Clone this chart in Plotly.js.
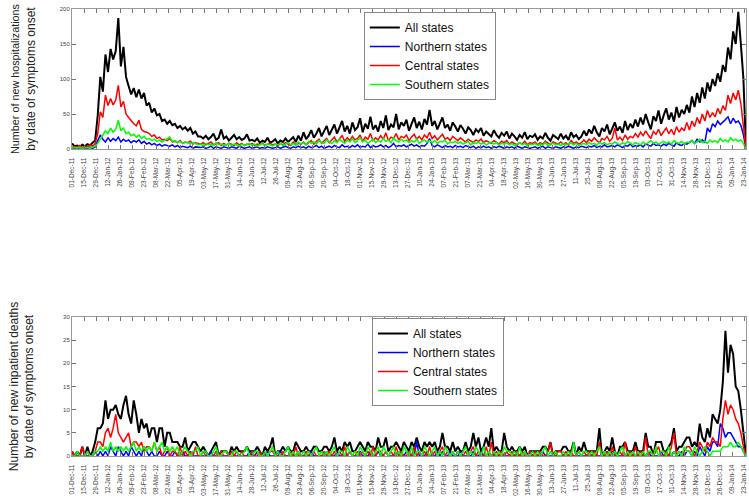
<!DOCTYPE html>
<html><head><meta charset="utf-8">
<script src="https://cdn.plot.ly/plotly-3.0.1.min.js"></script>
<style>html,body{margin:0;padding:0;background:#fff;}#chart{width:749px;height:499px;}</style>
</head><body><div id="chart"></div>
<script>
// Series sampled every 3 days from 01-Dec-2011
const startDate = '2011-12-01';
const stepDays = 3;
const seriesNames = ['All states', 'Northern states', 'Central states', 'Southern states'];

const hospAll = [
8,4,5,3,6,4,7,5,9,12,
48,103,82,135,110,143,128,140,187,118,
146,103,90,78,87,74,85,72,80,62,
66,52,58,48,50,40,42,36,40,34,
36,30,33,28,31,26,30,22,25,18,
18,15,19,14,17,22,13,16,28,15,
18,12,16,20,14,17,13,15,21,12,
13,11,15,9,12,10,16,9,11,14,
8,12,10,15,10,13,17,10,19,12,
24,14,19,27,16,22,30,18,25,33,
20,28,35,22,30,40,25,33,22,38,
27,31,44,24,36,29,46,28,34,25,
40,30,48,27,35,31,50,28,38,33,
42,26,36,45,30,39,28,43,35,56,
33,40,28,37,45,30,35,26,38,32,
25,34,29,22,31,27,20,28,24,30,
19,25,22,18,27,20,16,23,19,25,
15,22,18,13,20,16,24,14,19,17,
21,13,18,15,23,16,12,20,17,14,
22,15,19,13,24,17,20,14,18,26,
19,28,22,33,24,18,30,25,35,21,
29,38,26,32,23,40,27,36,30,42,
32,45,35,50,38,28,47,40,55,36,
48,58,42,52,39,60,45,56,50,63,
52,75,60,80,66,88,72,95,82,100,
90,108,96,120,110,145,128,168,150,196,
150,100,0];

const hospNorth = [
0,1,0,2,1,0,1,2,1,3,
12,20,14,10,16,11,15,12,17,10,
14,11,13,9,12,10,13,8,11,7,
9,6,8,5,7,4,6,5,4,6,
3,5,2,4,3,2,4,1,3,2,
2,3,1,2,4,1,3,2,1,3,
2,1,3,2,1,4,2,1,2,3,
1,2,3,1,2,1,3,2,1,2,
3,1,2,4,2,1,3,2,4,2,
3,1,4,2,3,5,2,4,1,3,
4,2,5,3,2,6,3,4,2,5,
3,6,2,4,3,7,2,5,3,4,
6,3,5,2,4,8,3,5,4,6,
3,5,7,4,6,3,5,4,8,15,
5,3,6,4,2,5,3,4,2,5,
3,4,2,5,3,2,4,1,3,2,
4,2,3,1,3,2,4,2,1,3,
2,3,1,4,2,1,3,2,1,2,
3,1,2,4,1,3,2,1,3,2,
1,3,2,4,2,1,3,2,4,3,
2,4,3,5,2,4,3,6,3,4,
5,3,6,4,2,5,4,7,3,5,
4,6,3,7,5,4,8,5,6,4,
7,5,8,6,4,9,6,5,8,7,
9,12,8,14,10,13,9,30,24,36,
32,40,35,38,42,46,36,44,38,40,
34,20,0];

const hospCentral = [
2,4,3,5,2,4,3,6,4,8,
22,53,45,77,62,72,63,70,91,60,
68,50,45,40,36,33,41,28,25,24,
22,18,20,15,17,13,14,12,15,10,
11,9,12,8,10,9,11,7,9,8,
7,9,6,8,10,6,7,9,5,8,
6,8,7,5,9,6,8,5,7,6,
8,5,7,6,9,5,7,8,6,7,
5,8,6,9,7,5,10,6,8,7,
10,6,9,12,7,10,14,8,11,15,
9,13,17,10,14,19,11,16,12,18,
13,15,20,11,17,14,22,12,16,13,
19,14,23,12,17,15,22,13,18,16,
20,12,17,21,14,18,13,20,16,24,
15,19,13,17,21,14,16,12,18,15,
12,16,13,10,14,12,9,13,11,14,
9,12,10,8,12,9,7,11,9,12,
7,10,8,6,9,7,11,6,9,8,
10,6,9,7,11,8,6,10,8,7,
10,7,9,6,12,8,10,7,9,13,
9,14,11,16,12,9,15,13,18,11,
15,30,13,17,12,20,14,18,16,22,
17,24,19,26,20,15,25,21,28,19,
25,30,22,28,20,32,24,30,26,38,
27,40,32,45,36,50,40,55,45,52,
46,58,50,62,55,77,65,80,70,84,
65,35,0];

const hospSouth = [
1,2,1,3,1,2,2,1,3,4,
8,15,20,26,22,30,24,28,41,26,
30,22,24,19,21,17,20,15,18,14,
15,12,14,11,13,10,12,14,17,11,
12,9,11,8,10,9,7,9,8,6,
7,5,8,6,7,5,9,6,7,5,
6,8,5,7,6,4,7,5,6,8,
5,7,4,6,8,5,7,6,4,7,
6,8,5,7,9,6,8,5,10,7,
9,6,11,8,10,7,12,9,8,13,
10,8,12,9,14,11,8,13,10,15,
9,12,16,10,13,8,11,14,9,12,
10,15,11,13,9,16,12,10,14,11,
13,9,12,10,14,8,11,13,10,12,
9,12,8,11,10,13,7,10,9,11,
8,10,7,9,11,6,9,8,10,7,
9,6,8,10,7,9,6,8,7,9,
6,8,5,7,9,6,8,5,7,6,
8,5,7,6,9,5,7,8,6,7,
5,8,6,7,9,6,8,5,7,8,
6,9,7,8,5,10,7,9,6,8,
7,10,8,6,9,7,11,8,6,9,
8,6,10,7,9,12,8,10,7,9,
11,8,10,7,12,9,8,11,7,10,
9,12,8,10,14,9,11,8,13,10,
12,9,15,11,13,10,16,12,14,11,
13,8,0];

const deathAll = [
1,0,1,0,2,0,2,0,1,3,
6,6,7,12,8,10,10,11,9,8,
11,13,9,7,12,9,5,8,6,7,
4,6,6,3,6,6,2,5,5,3,
3,3,2,2,4,1,2,3,3,2,
1,2,1,0,1,2,3,0,1,1,
1,0,2,1,2,1,1,1,2,1,
1,1,2,1,0,2,1,2,4,0,
1,1,2,1,2,1,1,3,2,1,
1,2,1,1,2,2,1,1,2,2,
1,2,4,1,2,1,3,2,3,1,
1,2,3,2,1,3,2,2,1,4,
2,2,4,1,2,2,3,2,1,3,
2,1,3,2,4,2,1,3,2,3,
2,3,1,2,5,2,2,1,3,1,
2,1,1,3,1,2,5,2,4,1,
2,4,2,6,1,2,1,1,5,2,
1,2,1,1,2,1,2,0,1,1,
1,1,1,2,2,1,3,0,1,1,
1,2,2,1,1,3,0,2,1,3,
1,1,1,1,1,6,0,1,2,1,
4,1,0,2,2,3,1,1,1,3,
1,1,1,5,2,2,0,3,3,3,
1,1,2,3,6,1,2,2,3,4,
4,2,3,2,7,4,3,6,4,9,
8,7,10,16,27,18,24,22,15,14,
10,5,0];

const deathNorth = [
0,0,0,0,0,0,0,0,0,1,
0,1,0,1,0,2,1,0,2,1,
0,1,0,2,1,0,1,0,2,1,
0,1,0,0,1,0,0,1,0,0,
1,0,0,1,0,0,1,0,0,0,
0,0,0,0,1,0,0,0,0,0,
0,0,1,0,0,0,0,0,0,1,
0,0,1,0,0,0,1,0,0,0,
0,1,0,0,0,0,0,0,1,0,
0,0,0,1,0,0,0,0,0,1,
0,0,0,1,0,0,0,0,1,0,
0,0,1,0,0,0,1,0,0,1,
0,0,1,0,0,0,0,1,0,0,
1,0,0,0,3,0,0,0,1,0,
0,0,1,0,1,0,0,1,0,0,
0,1,0,0,0,0,1,0,0,1,
0,0,1,0,0,0,0,0,0,0,
0,0,0,0,0,0,1,0,0,0,
0,0,0,1,0,0,0,0,0,0,
0,0,0,0,0,0,0,0,0,0,
0,0,0,0,0,0,0,0,1,0,
1,0,0,0,0,0,0,0,0,0,
0,0,0,0,1,0,0,0,0,1,
0,0,0,0,1,0,0,1,0,1,
1,0,1,0,2,1,0,2,1,3,
3,2,7,6,4,5,5,4,3,2,
2,1,0];

const deathCentral = [
1,0,0,0,2,0,1,0,0,1,
3,3,2,5,6,4,6,9,5,4,
3,4,5,2,3,3,2,3,1,2,
2,1,3,1,2,0,1,2,0,1,
1,0,2,0,1,0,1,0,2,0,
0,1,0,0,0,0,1,0,1,0,
0,0,1,0,1,0,1,0,0,0,
1,0,0,1,0,0,0,1,1,0,
0,0,1,0,0,1,0,2,0,0,
0,1,0,0,1,0,0,0,1,0,
1,0,1,0,1,0,2,0,1,0,
0,1,0,1,0,1,0,2,0,1,
1,0,1,0,1,0,2,0,1,0,
0,1,0,2,0,1,0,1,0,2,
0,1,0,1,2,0,1,0,1,0,
1,0,0,1,0,1,2,0,1,0,
0,2,0,3,0,1,0,1,0,1,
0,1,0,1,0,1,0,0,1,0,
1,0,1,0,0,1,3,0,0,1,
1,0,1,0,1,0,0,1,0,1,
0,1,0,1,0,3,0,0,1,0,
2,0,0,1,0,3,0,1,0,2,
0,1,0,4,0,1,0,1,2,0,
0,1,0,2,5,0,1,0,1,2,
2,1,0,1,3,2,1,3,2,4,
3,3,2,8,12,9,11,10,8,7,
5,2,0];

const deathSouth = [
0,0,1,0,0,0,1,0,0,1,
1,2,1,2,1,3,1,2,1,2,
1,2,1,2,3,1,2,1,2,1,
2,1,3,1,2,3,1,2,1,2,
1,2,0,1,2,1,0,1,1,2,
0,1,1,0,0,1,2,0,0,1,
1,0,0,1,1,0,0,1,2,0,
0,1,1,0,0,1,0,1,2,0,
1,0,0,1,2,0,1,0,1,0,
1,0,1,0,1,2,0,1,0,1,
0,1,2,0,1,1,0,2,1,0,
1,0,2,1,0,2,1,0,1,2,
0,2,1,0,1,2,0,1,0,2,
1,0,2,0,1,1,0,2,1,0,
1,2,0,1,0,2,1,0,1,0,
1,0,1,2,0,1,0,2,1,0,
2,0,1,0,1,0,1,0,2,1,
1,0,1,0,2,0,1,0,0,1,
0,1,0,1,2,0,1,0,1,0,
0,1,0,1,0,3,0,1,0,1,
1,0,1,0,1,2,0,1,0,1,
0,1,0,1,2,0,1,0,1,0,
1,0,1,0,1,1,0,2,0,1,
1,0,2,0,1,0,1,0,2,1,
1,0,2,1,0,1,2,1,0,1,
1,1,1,2,2,2,3,2,2,3,
2,1,0];

const DAY = 86400000;
const t0 = Date.parse(startDate + 'T00:00:00Z');
const dates = hospAll.map((_, i) => new Date(t0 + i * stepDays * DAY).toISOString().slice(0, 10));

const colors = ['#000000', '#0000ff', '#ff0000', '#00ff00'];
const widths = [2, 1.5, 1.5, 1.5];
const hospSeries = [hospAll, hospNorth, hospCentral, hospSouth];
const deathSeries = [deathAll, deathNorth, deathCentral, deathSouth];

const traces = [];
hospSeries.forEach((ys, k) => traces.push({
  type: 'scatter', mode: 'lines', x: dates, y: ys, name: seriesNames[k],
  xaxis: 'x', yaxis: 'y', legend: 'legend',
  line: {color: colors[k], width: widths[k]}
}));
deathSeries.forEach((ys, k) => traces.push({
  type: 'scatter', mode: 'lines', x: dates, y: ys, name: seriesNames[k],
  xaxis: 'x2', yaxis: 'y2', legend: 'legend2',
  line: {color: colors[k], width: widths[k]}
}));

const xCommon = {
  type: 'date', range: ['2011-12-01', '2014-01-25'], tick0: '2011-12-01', dtick: 14 * DAY,
  tickformat: '%d-%b-%y', tickangle: -90, ticks: 'inside', ticklen: 4, tickcolor: '#777',
  mirror: 'ticks', showline: true, linecolor: '#999', linewidth: 1, showgrid: false, zeroline: false,
  tickfont: {size: 6.5, color: '#444'}, ticklabelstandoff: 5, automargin: false
};
const yCommon = {
  ticks: 'inside', ticklen: 4, tickcolor: '#777', mirror: 'ticks', showline: true,
  linecolor: '#999', linewidth: 1, showgrid: false, zeroline: false,
  tickfont: {size: 6, color: '#444'}, automargin: false
};
const legendCommon = {
  xanchor: 'left', yanchor: 'top', bgcolor: '#ffffff', bordercolor: '#888', borderwidth: 1,
  font: {size: 12, color: '#111', family: 'Liberation Sans, Arial, sans-serif'}, itemwidth: 30
};

const layout = {
  width: 749, height: 499,
  margin: {l: 72, r: 3, t: 9, b: 43},
  paper_bgcolor: '#ffffff', plot_bgcolor: '#ffffff',
  font: {family: 'Liberation Sans, Arial, sans-serif'},
  showlegend: true,
  xaxis: Object.assign({}, xCommon, {anchor: 'y', domain: [0, 1]}),
  yaxis: Object.assign({}, yCommon, {anchor: 'x', domain: [0.6868, 1], range: [0, 200], dtick: 50,
    title: {text: '<span style="font-size:10.8px">Number of new hospitalizations</span><br>by date of symptoms onset', font: {size: 12, color: '#222'}, standoff: 21}}),
  xaxis2: Object.assign({}, xCommon, {anchor: 'y2', domain: [0, 1]}),
  yaxis2: Object.assign({}, yCommon, {anchor: 'x2', domain: [0, 0.311], range: [0, 30], dtick: 5,
    title: {text: 'Number of new inpatient deaths<br>by date of symptoms onset', font: {size: 12, color: '#222'}, standoff: 26}}),
  legend: Object.assign({}, legendCommon, {x: 0.433, y: 0.9933}),
  legend2: Object.assign({}, legendCommon, {x: 0.445, y: 0.3087})
};

Plotly.newPlot('chart', traces, layout, {displayModeBar: false, staticPlot: true});
</script>
</body></html>
